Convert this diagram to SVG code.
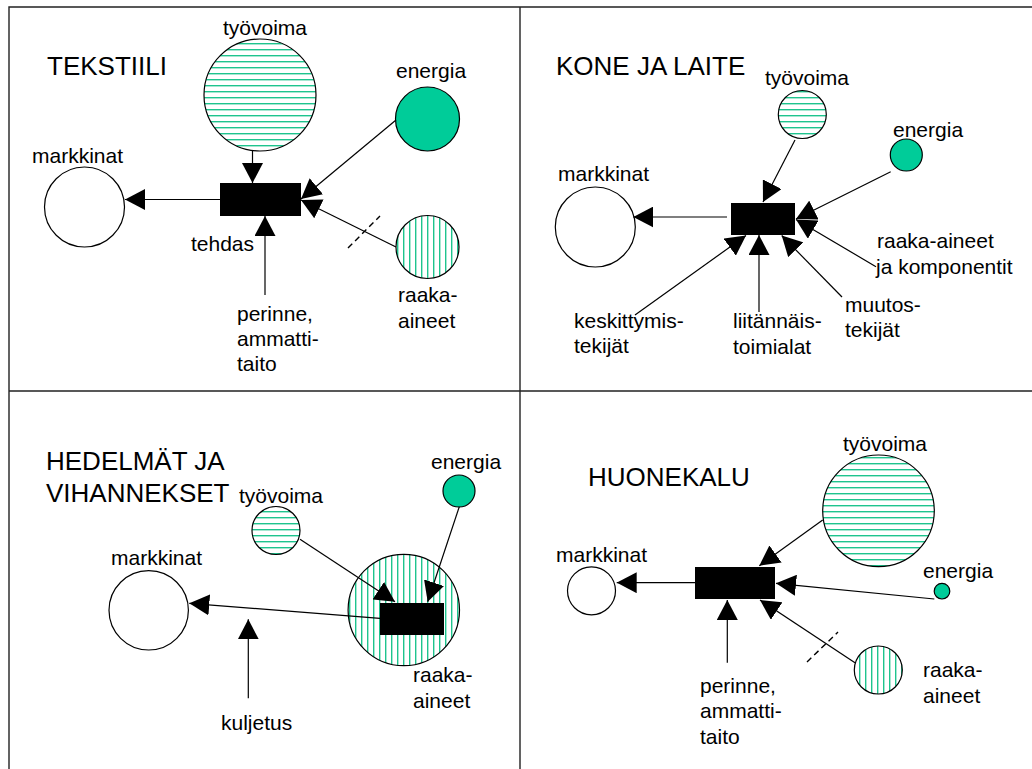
<svg xmlns="http://www.w3.org/2000/svg" width="1032" height="769" viewBox="0 0 1032 769">
  <defs>
    <style>
      .lbl { font-family: "Liberation Sans", Arial, sans-serif; font-size: 21px; fill: #000; }
      .ttl { font-family: "Liberation Sans", Arial, sans-serif; font-size: 26px; fill: #000; }
      .ring { stroke: #000; stroke-width: 1.2; }
      .plain { fill: #fff; }
      .power { fill: #00CC99; }
      .hz { fill: url(#hatchH); }
      .vt { fill: url(#hatchV); }
      .plant { fill: #000; }
      .flow { stroke: #000; stroke-width: 1.2; fill: none; marker-end: url(#ah); }
      .cut { stroke: #000; stroke-width: 1.4; fill: none; stroke-dasharray: 6 4; }
      .frame { stroke: #222; stroke-width: 1.4; fill: none; }
    </style>
    <!-- green line hatching: horizontal for labour, vertical for raw materials -->
    <pattern id="hatchH" patternUnits="userSpaceOnUse" width="6" height="6">
      <rect width="6" height="6" fill="#fff"/>
      <rect x="0" y="1" width="6" height="1.4" fill="#1ec48e"/>
    </pattern>
    <pattern id="hatchV" patternUnits="userSpaceOnUse" width="6" height="6">
      <rect width="6" height="6" fill="#fff"/>
      <rect x="1" y="0" width="1.4" height="6" fill="#1ec48e"/>
    </pattern>
    <marker id="ah" markerUnits="userSpaceOnUse" markerWidth="20" markerHeight="21" refX="20" refY="10.5" orient="auto" viewBox="0 0 20 21">
      <path d="M0,0 L20,10.5 L0,21 Z" fill="#000"/>
    </marker>
  </defs>

  <rect width="1032" height="769" fill="#fff"/>

  <!-- frame and quadrant dividers -->
  <path class="frame" d="M9,769 V7 H1032 M520,7 V769 M9,391 H1032"/>

  <!-- ===== TEKSTIILI ===== -->
  <g id="tekstiili-title"><text class="ttl" x="47" y="75">TEKSTIILI</text></g>
  <g id="t-tyovoima">
    <circle class="ring hz" cx="260" cy="95" r="56"/>
    <text class="lbl" x="223" y="35">työvoima</text>
  </g>
  <g id="t-energia">
    <circle class="ring power" cx="427.5" cy="119" r="32"/>
    <text class="lbl" x="396" y="78">energia</text>
  </g>
  <g id="t-markkinat">
    <circle class="ring plain" cx="84.5" cy="207" r="40"/>
    <text class="lbl" x="32" y="163">markkinat</text>
  </g>
  <g id="t-tehdas">
    <rect class="plant" x="220" y="183" width="81" height="33"/>
    <text class="lbl" x="191" y="251">tehdas</text>
  </g>
  <g id="t-raaka">
    <circle class="ring vt" cx="427.5" cy="247" r="31.5"/>
    <text class="lbl" x="398" y="302">raaka-</text>
    <text class="lbl" x="398" y="328">aineet</text>
  </g>
  <g id="t-perinne">
    <text class="lbl" x="237" y="321">perinne,</text>
    <text class="lbl" x="237" y="346">ammatti-</text>
    <text class="lbl" x="237" y="371">taito</text>
  </g>

  <!-- ===== KONE JA LAITE ===== -->
  <g id="kone-title"><text class="ttl" x="556" y="75">KONE JA LAITE</text></g>
  <g id="k-tyovoima">
    <circle class="ring hz" cx="802.3" cy="114.5" r="24"/>
    <text class="lbl" x="765" y="85">työvoima</text>
  </g>
  <g id="k-energia">
    <circle class="ring power" cx="906.3" cy="155" r="16"/>
    <text class="lbl" x="893" y="137">energia</text>
  </g>
  <g id="k-markkinat">
    <circle class="ring plain" cx="595.3" cy="227" r="40"/>
    <text class="lbl" x="558" y="181">markkinat</text>
  </g>
  <g id="k-tehdas">
    <rect class="plant" x="731" y="203" width="64" height="32"/>
  </g>
  <g id="k-raaka">
    <text class="lbl" x="877" y="248">raaka-aineet</text>
    <text class="lbl" x="876" y="274">ja komponentit</text>
  </g>
  <g id="k-keskittymis">
    <text class="lbl" x="574" y="328">keskittymis-</text>
    <text class="lbl" x="574" y="353">tekijät</text>
  </g>
  <g id="k-liitannais">
    <text class="lbl" x="733" y="328">liitännäis-</text>
    <text class="lbl" x="733" y="354">toimialat</text>
  </g>
  <g id="k-muutos">
    <text class="lbl" x="845" y="312">muutos-</text>
    <text class="lbl" x="845" y="337">tekijät</text>
  </g>

  <!-- ===== HEDELMÄT JA VIHANNEKSET ===== -->
  <g id="hedelmat-title">
    <text class="ttl" x="46" y="470">HEDELMÄT JA</text>
    <text class="ttl" x="46" y="502">VIHANNEKSET</text>
  </g>
  <g id="h-tyovoima">
    <circle class="ring hz" cx="276" cy="530.5" r="24"/>
    <text class="lbl" x="239" y="503">työvoima</text>
  </g>
  <g id="h-energia">
    <circle class="ring power" cx="459" cy="491" r="16"/>
    <text class="lbl" x="431" y="469">energia</text>
  </g>
  <g id="h-markkinat">
    <circle class="ring plain" cx="148.7" cy="610.3" r="39.7"/>
    <text class="lbl" x="111" y="565">markkinat</text>
  </g>
  <g id="h-raaka">
    <circle class="ring vt" cx="403.8" cy="610" r="55.7"/>
    <text class="lbl" x="413" y="682">raaka-</text>
    <text class="lbl" x="413" y="708">aineet</text>
  </g>
  <g id="h-tehdas">
    <rect class="plant" x="380" y="603" width="64" height="32"/>
  </g>
  <g id="h-kuljetus">
    <text class="lbl" x="221" y="730">kuljetus</text>
  </g>

  <!-- ===== HUONEKALU ===== -->
  <g id="huonekalu-title"><text class="ttl" x="588" y="486">HUONEKALU</text></g>
  <g id="u-tyovoima">
    <circle class="ring hz" cx="878.5" cy="510.8" r="55.8"/>
    <text class="lbl" x="843" y="451">työvoima</text>
  </g>
  <g id="u-energia">
    <circle class="ring power" cx="942" cy="591.2" r="7.8"/>
    <text class="lbl" x="923" y="578">energia</text>
  </g>
  <g id="u-markkinat">
    <circle class="ring plain" cx="591.5" cy="590.8" r="24"/>
    <text class="lbl" x="556" y="562">markkinat</text>
  </g>
  <g id="u-tehdas">
    <rect class="plant" x="695" y="567" width="80" height="32"/>
  </g>
  <g id="u-raaka">
    <circle class="ring vt" cx="878.3" cy="670" r="24"/>
    <text class="lbl" x="923" y="677">raaka-</text>
    <text class="lbl" x="923" y="703">aineet</text>
  </g>
  <g id="u-perinne">
    <text class="lbl" x="700" y="693">perinne,</text>
    <text class="lbl" x="700" y="718">ammatti-</text>
    <text class="lbl" x="700" y="744">taito</text>
  </g>

  <!-- ===== connectors ===== -->
  <g id="connectors">
    <!-- tekstiili -->
    <line class="flow" x1="220" y1="199.5" x2="125" y2="199.5"/>
    <line class="flow" x1="252.5" y1="151" x2="252.5" y2="183"/>
    <line class="flow" x1="265" y1="295" x2="265" y2="216"/>
    <line class="flow" x1="396" y1="120" x2="301" y2="199"/>
    <line class="flow" x1="396" y1="247" x2="301" y2="200"/>
    <line class="cut" x1="348" y1="248" x2="380" y2="216"/>
    <!-- kone ja laite -->
    <line class="flow" x1="727" y1="217" x2="633.3" y2="217"/>
    <line class="flow" x1="795" y1="140" x2="763" y2="202"/>
    <line class="flow" x1="890.7" y1="171.7" x2="796" y2="219"/>
    <line class="flow" x1="876" y1="266.7" x2="796" y2="219.5"/>
    <line class="flow" x1="635" y1="315" x2="746" y2="235.5"/>
    <line class="flow" x1="759" y1="312" x2="759" y2="235"/>
    <line class="flow" x1="842" y1="297" x2="781.7" y2="235.5"/>
    <!-- hedelmät ja vihannekset -->
    <line class="flow" x1="380" y1="618.3" x2="189.3" y2="603.3"/>
    <line class="flow" x1="300" y1="539.3" x2="395" y2="601.7"/>
    <line class="flow" x1="459.3" y1="506.7" x2="427.7" y2="601.7"/>
    <line class="flow" x1="248.3" y1="698.3" x2="248.3" y2="619.3"/>
    <!-- huonekalu -->
    <line class="flow" x1="695" y1="582.7" x2="616.7" y2="582.7"/>
    <line class="flow" x1="822.7" y1="520" x2="759.3" y2="565.7"/>
    <line class="flow" x1="934.3" y1="599" x2="776" y2="583.3"/>
    <line class="flow" x1="727.3" y1="662.7" x2="727.3" y2="600"/>
    <line class="flow" x1="855" y1="662.7" x2="760" y2="600"/>
    <line class="cut" x1="807" y1="662" x2="838" y2="632"/>
  </g>
</svg>
